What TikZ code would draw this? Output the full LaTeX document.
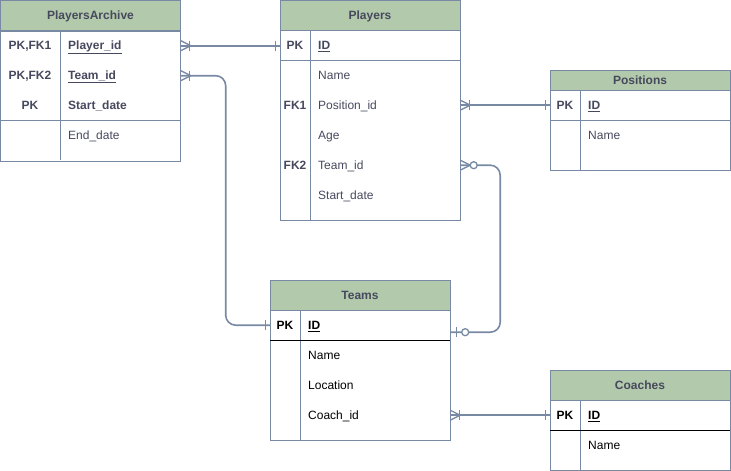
\documentclass[tikz,border=0pt]{standalone}
\usepackage{fontspec}
\setmainfont{Liberation Sans}
\usepackage{xcolor}
\usetikzlibrary{positioning, calc}
\definecolor{erline}{HTML}{788AA3}
\definecolor{erfill}{HTML}{B2C9AB}
\definecolor{ertext}{HTML}{46495D}
\tikzset{
  tablehead/.style={
    rectangle, draw=erline, fill=erfill, minimum width=180pt, minimum height=30pt,
    inner sep=0pt, text height=8.6pt, text depth=0pt, text=ertext,
    font=\bfseries\fontsize{12}{14}\selectfont
  },
  tablebody/.style={
    rectangle, draw=erline, minimum width=180pt, inner sep=0pt, anchor=north
  },
  keytext/.style={
    anchor=base, inner sep=0pt, text=ertext, font=\bfseries\fontsize{12}{14}\selectfont
  },
  fieldtext/.style={
    anchor=base west, inner sep=0pt, text=ertext, font=\fontsize{12}{14}\selectfont
  },
  tableline/.style={draw=erline, line width=1pt},
  erlink/.style={draw=erline, line width=1.6pt, rounded corners=10pt},
  ermark/.style={draw=erline, line width=1.3pt},
  pics/ermany/.style={code={
    \draw[ermark] (0,-5) -- (10,0) -- (0,5);
    \draw[ermark] (9,-5) -- (9,5);
  }},
  pics/erone/.style={code={
    \draw[ermark] (4,-5) -- (4,5);
  }},
  pics/erzeromany/.style={code={
    \draw[ermark] (0,-5) -- (10,0) -- (0,5);
    \draw[ermark, fill=white] (13.5,0) circle (3.5);
  }},
  pics/erzeroone/.style={code={
    \draw[ermark] (6,-5) -- (6,5);
    \draw[ermark, fill=white] (15,0) circle (3.5);
  }}
}
\begin{document}
\begin{tikzpicture}[x=1pt, y=-1pt]
  \useasboundingbox (0,0) rectangle (731,471);

  % PlayersArchive
  \node[tablehead] (archive) at (90.5,15.5) {PlayersArchive};
  \node[tablebody, minimum height=130pt, below=0pt of archive] (archiveBody) {};
  \draw[tableline] (60,30) -- (60,160);
  \draw[tableline] (1,120) -- (180,120);
  \node[keytext] (archivePK1) at (30,49.5) {PK,FK1};
  \node[keytext] (archivePK2) at (30,79.5) {PK,FK2};
  \node[keytext] (archivePK3) at (30,109.5) {PK};
  \node[fieldtext, font=\bfseries\fontsize{12}{14}\selectfont] (archivePlayer) at (68,49.5) {\underline{Player\_id}};
  \node[fieldtext, font=\bfseries\fontsize{12}{14}\selectfont] (archiveTeam) at (68,79.5) {\underline{Team\_id}};
  \node[fieldtext, font=\bfseries\fontsize{12}{14}\selectfont] (archiveStart) at (68,109.5) {Start\_date};
  \node[fieldtext] (archiveEnd) at (68,139.5) {End\_date};

  % Players
  \node[tablehead] (players) at (370,15) {Players};
  \node[tablebody, minimum height=190pt, below=0pt of players] (playersBody) {};
  \draw[tableline] (310,30) -- (310,220);
  \draw[tableline] (280,60) -- (460,60);
  \node[keytext] (playersPK) at (295,49.5) {PK};
  \node[keytext] (playersFK1) at (295,109.5) {FK1};
  \node[keytext] (playersFK2) at (295,169.5) {FK2};
  \node[fieldtext, font=\bfseries\fontsize{12}{14}\selectfont] (playersID) at (318,49.5) {\underline{ID}};
  \node[fieldtext] (playersName) at (318,79.5) {Name};
  \node[fieldtext] (playersPosition) at (318,109.5) {Position\_id};
  \node[fieldtext] (playersAge) at (318,139.5) {Age};
  \node[fieldtext] (playersTeam) at (318,169.5) {Team\_id};
  \node[fieldtext] (playersStart) at (318,199.5) {Start\_date};

  % Positions
  \node[tablehead, minimum height=20pt] (positions) at (640,80) {Positions};
  \node[tablebody, minimum height=80pt, below=0pt of positions] (positionsBody) {};
  \draw[tableline] (580,90) -- (580,170);
  \draw[tableline] (550,120) -- (730,120);
  \node[keytext] (positionsPK) at (565,109.5) {PK};
  \node[fieldtext, font=\bfseries\fontsize{12}{14}\selectfont] (positionsID) at (588,109.5) {\underline{ID}};
  \node[fieldtext] (positionsName) at (588,139.5) {Name};

  % Teams
  \node[tablehead] (teams) at (360,295) {Teams};
  \node[tablebody, minimum height=130pt, below=0pt of teams] (teamsBody) {};
  \draw[tableline] (300,310) -- (300,440);
  \draw[line width=1pt] (270,340) -- (450,340);
  \node[keytext, text=black] (teamsPK) at (285,329.5) {PK};
  \node[fieldtext, text=black, font=\bfseries\fontsize{12}{14}\selectfont] (teamsID) at (308,329.5) {\underline{ID}};
  \node[fieldtext, text=black] (teamsName) at (308,359.5) {Name};
  \node[fieldtext, text=black] (teamsLocation) at (308,389.5) {Location};
  \node[fieldtext, text=black] (teamsCoach) at (308,419.5) {Coach\_id};

  % Coaches
  \node[tablehead] (coaches) at (640,385) {Coaches};
  \node[tablebody, minimum height=70pt, below=0pt of coaches] (coachesBody) {};
  \draw[tableline] (580,400) -- (580,470);
  \draw[line width=1pt] (550,430) -- (730,430);
  \node[keytext, text=black] (coachesPK) at (565,419.5) {PK};
  \node[fieldtext, text=black, font=\bfseries\fontsize{12}{14}\selectfont] (coachesID) at (588,419.5) {\underline{ID}};
  \node[fieldtext, text=black] (coachesName) at (588,449.5) {Name};

  % relations
  \draw[erlink] (archiveBody.east |- archive.south) ++(0,15) coordinate (archiveEnd1) -- (playersBody.west |- archiveEnd1);
  \draw[erlink] (archiveBody.east |- archive.south) ++(0,45) coordinate (archiveEnd2) -- ++(45,0) |- ($(teamsBody.west |- teams.south)+(0,15)$) coordinate (teamsEnd1);
  \draw[erlink] (playersBody.east |- players.south) ++(0,75) coordinate (playersEnd1) -- (positionsBody.west |- playersEnd1);
  \draw[erlink] (playersBody.east |- players.south) ++(0,135) coordinate (playersEnd2) -- ++(40,0) |- ($(teamsBody.east |- teams.south)+(0,22)$) coordinate (teamsEnd2);
  \draw[erlink] (teamsBody.east |- teams.south) ++(0,105) coordinate (teamsEnd3) -- (coachesBody.west |- teamsEnd3);

  \pic at (archiveEnd1) {ermany};
  \pic[rotate=180] at (playersBody.west |- archiveEnd1) {erone};
  \pic at (archiveEnd2) {ermany};
  \pic[rotate=180] at (teamsEnd1) {erone};
  \pic at (playersEnd1) {ermany};
  \pic[rotate=180] at (positionsBody.west |- playersEnd1) {erone};
  \pic at (playersEnd2) {erzeromany};
  \pic at (teamsEnd2) {erzeroone};
  \pic at (teamsEnd3) {ermany};
  \pic[rotate=180] at (coachesBody.west |- teamsEnd3) {erone};
\end{tikzpicture}
\end{document}
